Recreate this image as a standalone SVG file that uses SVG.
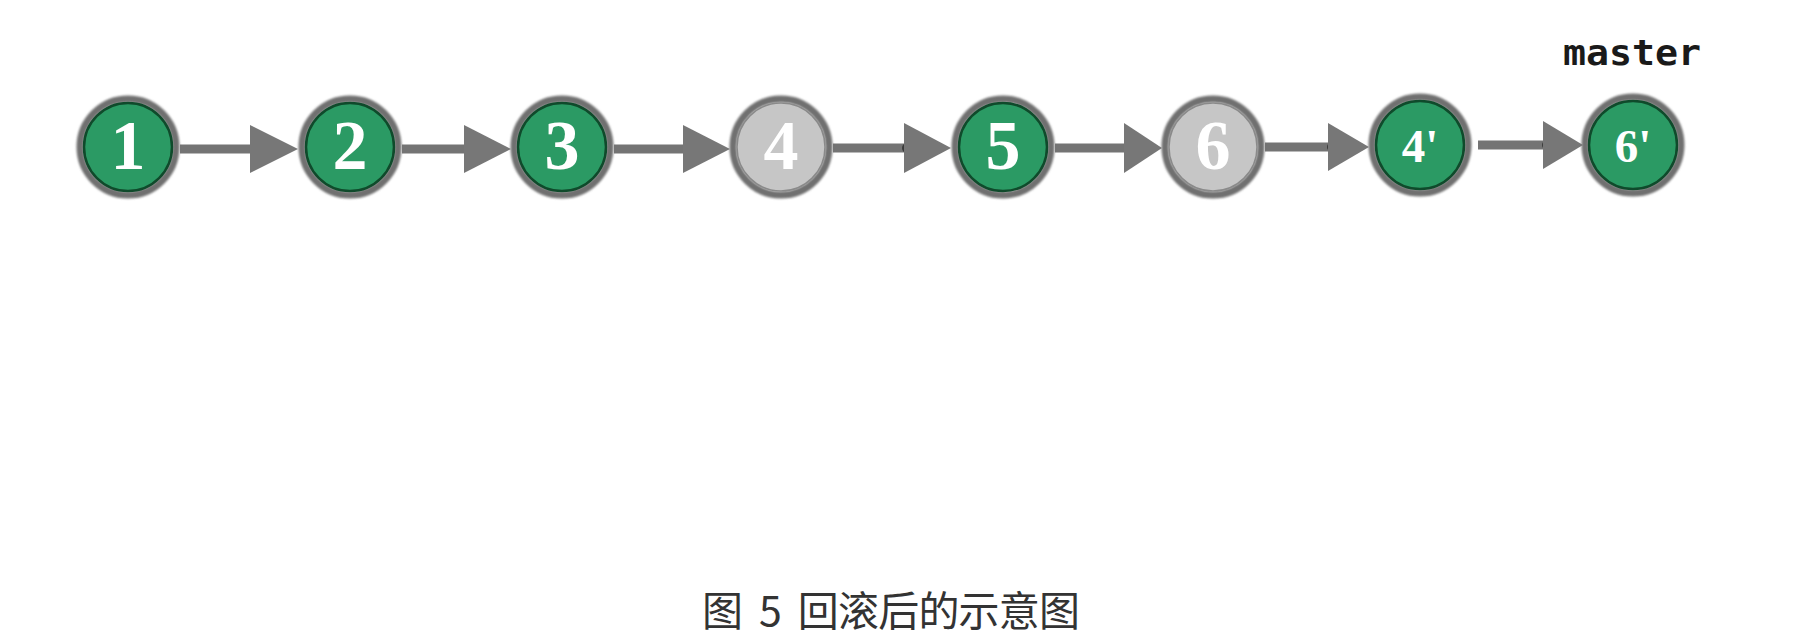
<svg xmlns="http://www.w3.org/2000/svg" width="1808" height="644" viewBox="0 0 1808 644">
<style>
.ring{fill:none;stroke:#6f6f6f;stroke-width:7}
.g{fill:#2b9a64;stroke:#0f4a2b;stroke-width:2.5}
.x{fill:#c6c6c6;stroke:#8a8a8a;stroke-width:1.5}
.num{font-family:"Liberation Serif","DejaVu Serif",serif;font-weight:bold;fill:#fff;text-anchor:middle}
.big{font-size:70px}
.small{font-size:47px}
.edge{stroke:#747474;stroke-width:9}
.head{fill:#777}
.dot{fill:#3a3a3a}
</style>
<defs>
<filter id="blur" x="-20%" y="-20%" width="140%" height="140%"><feGaussianBlur stdDeviation="1.2"/></filter>
</defs>
<rect width="1808" height="644" fill="#fff"/>
<g id="connectors">
  <g><line class="edge" x1="180" y1="149" x2="256" y2="149"/><circle class="dot" cx="257" cy="149" r="5"/><polygon class="head" points="250,125 298,149 250,173"/></g>
  <g><line class="edge" x1="402" y1="149" x2="468" y2="149"/><circle class="dot" cx="469" cy="149" r="5"/><polygon class="head" points="464,125 511,149 464,173"/></g>
  <g><line class="edge" x1="614" y1="149" x2="687" y2="149"/><circle class="dot" cx="688" cy="149" r="5"/><polygon class="head" points="683,125 730,149 683,173"/></g>
  <g><line class="edge" x1="833" y1="148" x2="906" y2="148"/><circle class="dot" cx="907" cy="148" r="5"/><polygon class="head" points="904,123 951,148 904,173"/></g>
  <g><line class="edge" x1="1055" y1="148" x2="1128" y2="148"/><circle class="dot" cx="1129" cy="148" r="5"/><polygon class="head" points="1124,123 1162,148 1124,173"/></g>
  <g><line class="edge" x1="1265" y1="147" x2="1331" y2="147"/><circle class="dot" cx="1332" cy="147" r="5"/><polygon class="head" points="1328,123 1369,147 1328,171"/></g>
  <g><line class="edge" x1="1478" y1="145" x2="1546" y2="145"/><circle class="dot" cx="1547" cy="145" r="5"/><polygon class="head" points="1543,121 1583,145 1543,169"/></g>
</g>
<g id="n1"><circle class="ring" cx="128" cy="147" r="48" filter="url(#blur)"/><circle class="g" cx="128" cy="147" r="44"/><text class="num big" x="128" y="169">1</text></g>
<g id="n2"><circle class="ring" cx="350" cy="147" r="48" filter="url(#blur)"/><circle class="g" cx="350" cy="147" r="44"/><text class="num big" x="350" y="169">2</text></g>
<g id="n3"><circle class="ring" cx="562" cy="147" r="48" filter="url(#blur)"/><circle class="g" cx="562" cy="147" r="44"/><text class="num big" x="562" y="169">3</text></g>
<g id="n4"><circle class="ring" cx="781" cy="147" r="48" filter="url(#blur)"/><circle class="x" cx="781" cy="147" r="44"/><text class="num big" x="781" y="169">4</text></g>
<g id="n5"><circle class="ring" cx="1003" cy="147" r="48" filter="url(#blur)"/><circle class="g" cx="1003" cy="147" r="44"/><text class="num big" x="1003" y="169">5</text></g>
<g id="n6"><circle class="ring" cx="1213" cy="147" r="48" filter="url(#blur)"/><circle class="x" cx="1213" cy="147" r="44"/><text class="num big" x="1213" y="169">6</text></g>
<g id="n4p"><circle class="ring" cx="1420" cy="145" r="48" filter="url(#blur)"/><circle class="g" cx="1420" cy="145" r="44"/><text class="num small" x="1420" y="162">4'</text></g>
<g id="n6p"><circle class="ring" cx="1633" cy="145" r="48" filter="url(#blur)"/><circle class="g" cx="1633" cy="145" r="44"/><text class="num small" x="1633" y="162">6'</text></g>
<g id="label-master"><text x="1563" y="65" font-family="'DejaVu Sans Mono','Liberation Mono',monospace" font-weight="bold" font-size="36" fill="#1a1a1a" textLength="138" lengthAdjust="spacingAndGlyphs">master</text></g>
<g id="caption"><text x="702" y="626" xml:space="preserve" font-family="'Noto Sans CJK SC','Noto Sans',sans-serif" font-size="41" fill="#333" textLength="378" lengthAdjust="spacing">图  5  回滚后的示意图</text></g>
</svg>
